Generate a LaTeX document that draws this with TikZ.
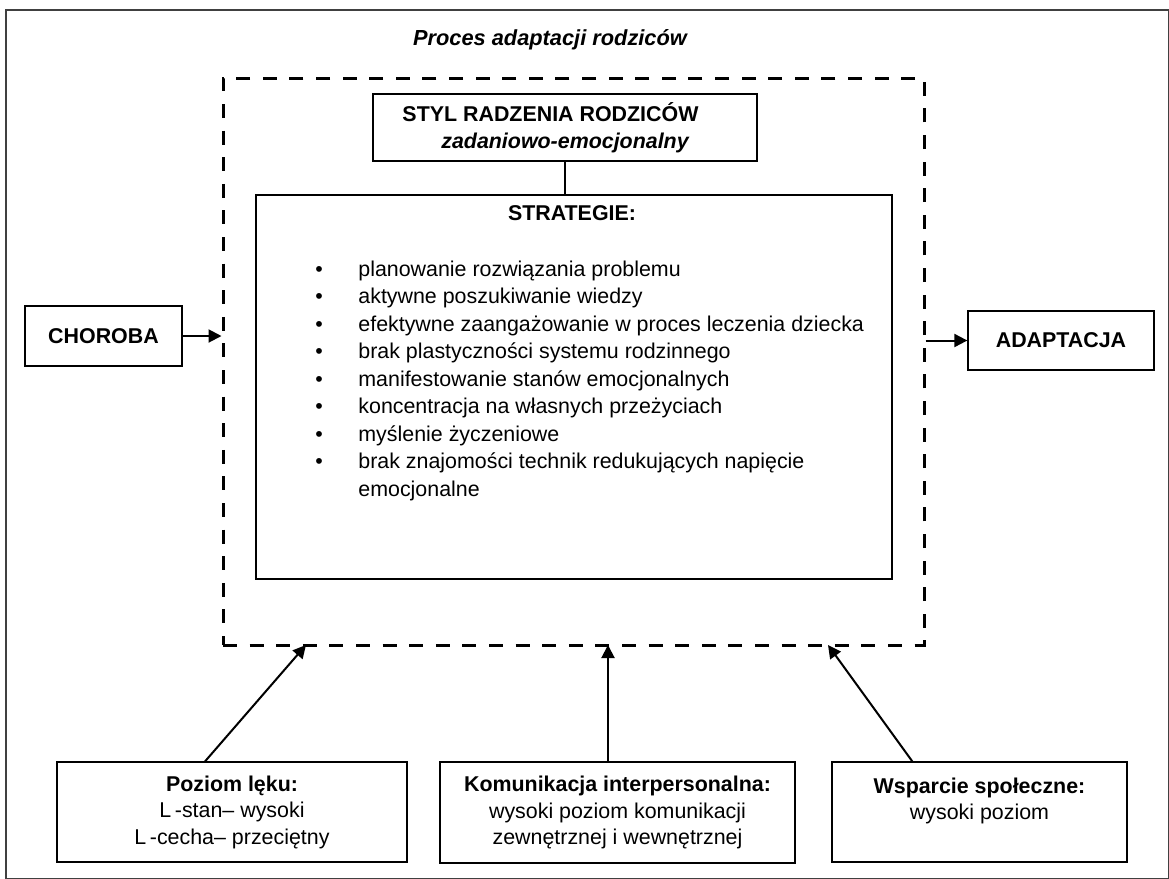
\documentclass[tikz,border=0pt]{standalone}
\usepackage{fontspec}
\setmainfont{Liberation Sans}
\usepackage{tikz}
\usetikzlibrary{arrows.meta, positioning, calc}

\tikzset{
  ramka/.style={draw, line width=0.65pt, inner sep=0pt, align=center,
    font=\fontsize{10.7}{13.25}\selectfont},
  proces/.style={draw, line width=1.5pt, dash pattern=on 7pt off 6.3pt, inner sep=0pt},
  strzalka/.style={line width=1pt, -{Triangle[length=6.5pt, width=6.5pt]}},
  wiersz/.style={inner sep=0pt, font=\fontsize{10.7}{13.75}\selectfont},
}

\begin{document}
\begin{tikzpicture}[x=0.5pt, y=-0.5pt]
\useasboundingbox (0,0) rectangle (1169,879);
% ---- outer frame ----
\draw[black!75, line width=0.6pt] (6,10) rectangle (1168.5,878.5);

% title
\node[wiersz, font=\fontsize{10.9}{13}\selectfont\bfseries\itshape] (tytul)
  at (550,40) {Proces adaptacji rodziców};

% ---- dashed process frame ----
\node[proces, minimum width=350.5pt, minimum height=283.5pt] (proces) at (573.5,361.5) {};

% coping style
\node[ramka, line width=1pt, minimum width=192pt, minimum height=33.5pt,
  font=\fontsize{10.7}{13.5}\selectfont\bfseries] (styl) at (565,127.5)
  {STYL RADZENIA RODZICÓW\hspace*{14.5pt}\\\itshape zadaniowo-emocjonalny};

% strategies
\node[ramka, minimum width=318pt, minimum height=192pt] (strategie) at (574,387) {};
\node[wiersz, font=\fontsize{10.7}{13}\selectfont\bfseries] (strtytul) at (572,213) {STRATEGIE:};
\foreach \tekst/\kropka [count=\i from 0] in {
  {planowanie rozwiązania problemu}/1,
  {aktywne poszukiwanie wiedzy}/1,
  {efektywne zaangażowanie w proces leczenia dziecka}/1,
  {brak plastyczności systemu rodzinnego}/1,
  {manifestowanie stanów emocjonalnych}/1,
  {koncentracja na własnych przeżyciach}/1,
  {myślenie życzeniowe}/1,
  {brak znajomości technik redukujących napięcie}/1,
  {emocjonalne}/0}
{
  \node[wiersz, anchor=base west] (wiersz\i) at (358,276+27.5*\i) {\tekst};
  \ifnum\kropka=1
    \node[wiersz, anchor=base] (kropka\i) at (319,276+27.5*\i) {\textbullet};
  \fi
}
\draw[line width=1pt] (styl.south) -- (styl.south |- strategie.north);

% ---- input and outcome ----
\node[ramka, minimum width=78.5pt, minimum height=30pt, font=\fontsize{10.7}{13}\selectfont\bfseries]
  (choroba) at (103.5,336) {CHOROBA};
\node[ramka, minimum width=93pt, minimum height=29.5pt, font=\fontsize{10.7}{13}\selectfont\bfseries]
  (adaptacja) at (1061,340.5) {ADAPTACJA};
\draw[strzalka] (choroba.east) -- (choroba.east -| proces.west);
\draw[strzalka] (adaptacja.west -| proces.east) -- (adaptacja.west);

% ---- bottom factors ----
\node[ramka, minimum width=175pt, minimum height=50pt] (lek) at (232,812)
  {\textbf{Poziom lęku:}\\L\,-stan– wysoki\\L\,-cecha– przeciętny};
\node[ramka, minimum width=177.5pt, minimum height=50.5pt] (kom) at (617.5,812.5)
  {\textbf{Komunikacja interpersonalna:}\\wysoki poziom komunikacji\\zewnętrznej i wewnętrznej};
\node[ramka, minimum width=147.5pt, minimum height=50pt] (wsp) at (979.5,812)
  {\textbf{Wsparcie społeczne:}\\wysoki poziom\\\mbox{}};

\coordinate (wejscieA) at (306,645);
\coordinate (wejscieB) at (608,645);
\coordinate (wejscieC) at (828,645);
\draw[strzalka] (lek.118) -- (wejscieA);
\draw[strzalka] (wejscieB |- kom.north) -- (wejscieB);
\draw[strzalka] (wsp.143) -- (wejscieC);
\end{tikzpicture}
\end{document}
